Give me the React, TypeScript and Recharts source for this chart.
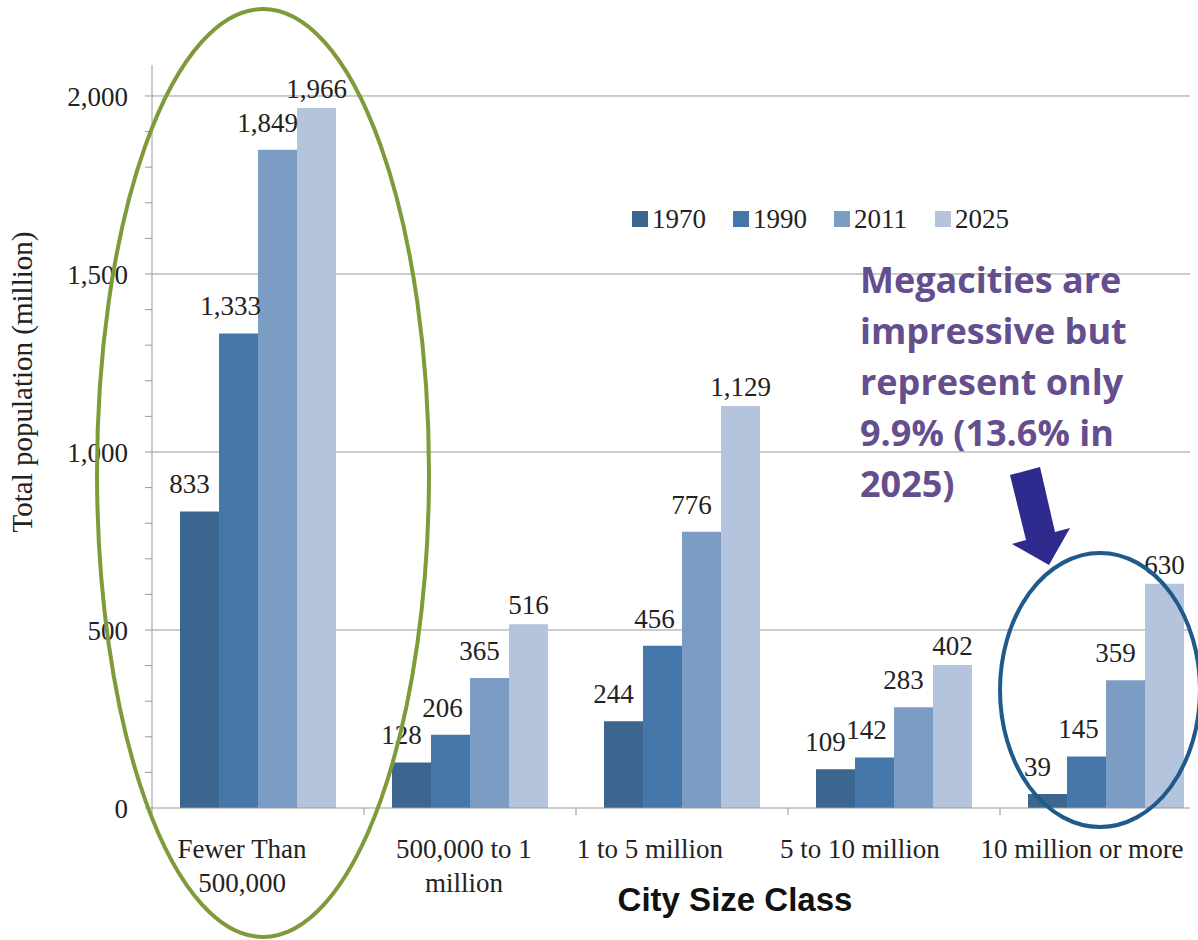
import { BarChart, Bar, XAxis, YAxis, CartesianGrid, Legend, LabelList } from "recharts";

const categories = [
  "Fewer Than\n500,000",
  "500,000 to 1\nmillion",
  "1 to 5 million",
  "5 to 10 million",
  "10 million or more",
];
const years = ["1970", "1990", "2011", "2025"];
const pop1970 = [833, 128, 244, 109, 39];
const pop1990 = [1333, 206, 456, 142, 145];
const pop2011 = [1849, 365, 776, 283, 359];
const pop2025 = [1966, 516, 1129, 402, 630];
const yTicks = [0, 100, 200, 300, 400, 500, 600, 700, 800, 900, 1000, 1100, 1200, 1300, 1400, 1500, 1600, 1700, 1800, 1900, 2000];
const gridValues = [500, 1000, 1500, 2000];
const noteLines = ["Megacities are", "impressive but", "represent only", "9.9% (13.6% in", "2025)"];

const colors = ["#3c668f", "#4677aa", "#7b9cc3", "#b3c4dc"];
const serif = "'Liberation Serif', 'Times New Roman', serif";
const PLOT_W = 1060;
// category labels sit a little left of their band in the original
const tickShift = [-16, -6, -32, -34, -24];

const data = categories.map((name, i) => ({
  name,
  y1970: pop1970[i],
  y1990: pop1990[i],
  y2011: pop2011[i],
  y2025: pop2025[i],
}));

const fmt = (v: number) => v.toLocaleString("en-US");

function CategoryTick(props: any) {
  const { x, y, payload, index } = props;
  const band = PLOT_W / categories.length;
  const lines = String(payload.value).split("\n");
  const tx = x + (tickShift[index] ?? -20);
  return (
    <g>
      <line x1={x - band / 2} x2={x - band / 2} y1={y} y2={y + 7} stroke="#9a9a9a" />
      <text x={tx} y={y + 50} textAnchor="middle" fontFamily={serif} fontSize={27} fill="#222">
        {lines.map((l, i) => (
          <tspan key={i} x={tx} dy={i === 0 ? 0 : 34}>
            {l}
          </tspan>
        ))}
      </text>
    </g>
  );
}

function makeLabel(dx: number, off: number) {
  return (p: any) => (
    <text
      x={p.x + p.width / 2 + dx}
      y={p.y - off}
      textAnchor="middle"
      fontFamily={serif}
      fontSize={27}
      fill="#222"
    >
      {fmt(Number(p.value))}
    </text>
  );
}

function LegendBox() {
  return (
    <div style={{ display: "flex", fontFamily: serif, fontSize: 27, color: "#222", lineHeight: "30px" }}>
      {years.map((yr, i) => (
        <div key={yr} style={{ display: "flex", alignItems: "center", width: 101 }}>
          <span style={{ width: 16, height: 16, background: colors[i], marginRight: 4, display: "inline-block" }} />
          {yr}
        </div>
      ))}
    </div>
  );
}

export default function App() {
  return (
    <div style={{ position: "absolute", left: 0, top: 0, width: 1198, height: 940, overflow: "hidden", background: "#fff" }}>
      <div style={{ position: "absolute", left: 0, top: 0, width: 1190, height: 940, overflow: "hidden" }}>
        <BarChart
          width={1212}
          height={940}
          data={data}
          margin={{ top: 65, right: 0, bottom: 0, left: 0 }}
          barGap={0}
          barCategoryGap={28}
        >
          <CartesianGrid vertical={false} horizontalValues={gridValues} stroke="#9a9a9a" />
          <XAxis
            dataKey="name"
            height={132}
            interval={0}
            tickLine={false}
            tickSize={0}
            tickMargin={0}
            axisLine={{ stroke: "#9a9a9a" }}
            tick={<CategoryTick />}
          />
          <YAxis
            width={152}
            domain={[0, 2087]}
            ticks={yTicks}
            interval={0}
            tickSize={7}
            tickMargin={17}
            axisLine={{ stroke: "#9a9a9a" }}
            tickLine={{ stroke: "#9a9a9a" }}
            tick={{ fontFamily: serif, fontSize: 27, fill: "#222" }}
            tickFormatter={(v: number) => (v % 500 === 0 ? fmt(v) : "")}
          />
          <Legend
            layout="horizontal"
            verticalAlign="middle"
            align="center"
            wrapperStyle={{ top: 204, left: 632, width: 420 }}
            content={<LegendBox />}
          />
          <Bar dataKey="y1970" name="1970" fill={colors[0]} isAnimationActive={false}>
            <LabelList dataKey="y1970" content={makeLabel(-10, 18)} />
          </Bar>
          <Bar dataKey="y1990" name="1990" fill={colors[1]} isAnimationActive={false}>
            <LabelList dataKey="y1990" content={makeLabel(-8, 18)} />
          </Bar>
          <Bar dataKey="y2011" name="2011" fill={colors[2]} isAnimationActive={false}>
            <LabelList dataKey="y2011" content={makeLabel(-10, 18)} />
          </Bar>
          <Bar dataKey="y2025" name="2025" fill={colors[3]} isAnimationActive={false}>
            <LabelList dataKey="y2025" content={makeLabel(0, 10)} />
          </Bar>
        </BarChart>
      </div>
      <svg width={1198} height={940} style={{ position: "absolute", left: 0, top: 0, pointerEvents: "none" }}>
        <text
          transform="translate(32,382) rotate(-90)"
          textAnchor="middle"
          fontFamily={serif}
          fontSize={29}
          fill="#222"
        >
          Total population (million)
        </text>
        <text x={735} y={911} textAnchor="middle" fontFamily="'Liberation Sans', Arial, sans-serif" fontWeight={700} fontSize={33} fill="#111">
          City Size Class
        </text>
        <ellipse cx={263} cy={473} rx={166} ry={464} fill="none" stroke="#7f9a3a" strokeWidth={4} />
        <ellipse cx={1100} cy={690} rx={100} ry={137} fill="none" stroke="#1f5a8a" strokeWidth={4} />
        <polygon
          points="1010,475 1040,467 1055,532 1070,528 1049,565 1012,544 1026,540"
          fill="#2e2a8e"
        />
        {noteLines.map((l, i) => (
          <text key={i} x={860} y={293 + i * 51} fontFamily="'Open Sans', Lato, sans-serif" fontWeight={700} fontSize={36} fill="#654e8e">
            {l}
          </text>
        ))}
      </svg>
    </div>
  );
}
